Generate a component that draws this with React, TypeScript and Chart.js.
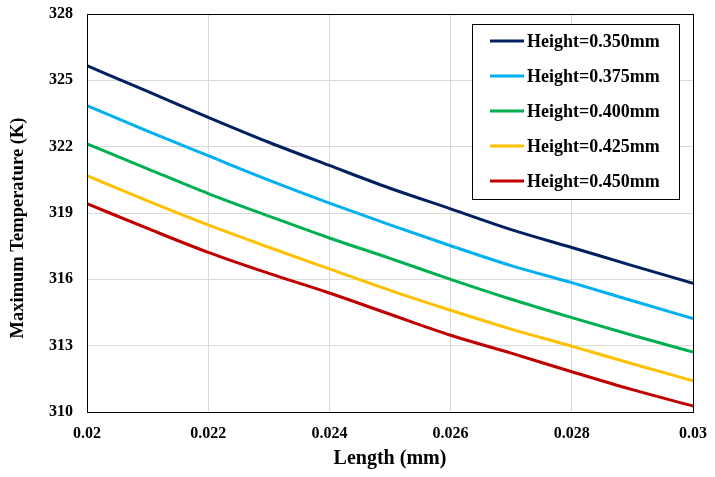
import React, { useEffect, useRef } from "react";
import { Chart, registerables } from "chart.js";

Chart.register(...registerables);

const lengths = [0.02, 0.021, 0.022, 0.023, 0.024, 0.025, 0.026, 0.027, 0.028, 0.029, 0.03];
const seriesLabels = ["Height=0.350mm", "Height=0.375mm", "Height=0.400mm", "Height=0.425mm", "Height=0.450mm"];
const h350 = [325.66, 324.5, 323.33, 322.2, 321.15, 320.12, 319.19, 318.25, 317.44, 316.62, 315.82];
const h375 = [323.86, 322.7, 321.59, 320.49, 319.45, 318.46, 317.52, 316.62, 315.85, 315.03, 314.23];
const h400 = [322.13, 321.0, 319.88, 318.86, 317.87, 316.95, 316.0, 315.1, 314.27, 313.47, 312.71];
const h425 = [320.69, 319.55, 318.46, 317.45, 316.47, 315.5, 314.6, 313.75, 312.98, 312.18, 311.41];
const h450 = [319.42, 318.3, 317.22, 316.27, 315.38, 314.42, 313.47, 312.66, 311.82, 311.01, 310.27];
const seriesValues = [h350, h375, h400, h425, h450];
const seriesColors = ["#002060", "#00B0F0", "#00B050", "#FFC000", "#C00000"];
const xTicks = [0.02, 0.022, 0.024, 0.026, 0.028, 0.03];
const yTicks = [310, 313, 316, 319, 322, 325, 328];
const xTitle = "Length (mm)";
const yTitle = "Maximum Temperature (K)";

const FONT = "'Liberation Serif', 'Times New Roman', serif";

const frameAndLegend = {
  id: "frameAndLegend",
  afterDatasetsDraw(chart: any) {
    const { ctx, chartArea } = chart;
    ctx.save();
    ctx.strokeStyle = "#000";
    ctx.lineWidth = 1;
    ctx.strokeRect(
      Math.round(chartArea.left) + 0.5,
      Math.round(chartArea.top) + 0.5,
      Math.round(chartArea.right - chartArea.left),
      Math.round(chartArea.bottom - chartArea.top)
    );
    // y axis title
    ctx.save();
    ctx.translate(18, (chartArea.top + chartArea.bottom) / 2 + 15);
    ctx.rotate(-Math.PI / 2);
    ctx.font = `bold 18.5px ${FONT}`;
    ctx.fillStyle = "#000";
    ctx.textAlign = "center";
    ctx.textBaseline = "middle";
    ctx.fillText(yTitle, 0, 0);
    ctx.restore();
    // legend
    const boxW = 207;
    const boxH = 175;
    const bx = Math.round(chartArea.right) - 14 - boxW;
    const by = Math.round(chartArea.top) + 10;
    ctx.fillStyle = "#fff";
    ctx.fillRect(bx, by, boxW, boxH);
    ctx.strokeStyle = "#000";
    ctx.lineWidth = 1;
    ctx.strokeRect(bx + 0.5, by + 0.5, boxW, boxH);
    ctx.font = `bold 18px ${FONT}`;
    ctx.textBaseline = "middle";
    ctx.textAlign = "left";
    chart.data.datasets.forEach((ds: any, i: number) => {
      const y = by + 17 + i * 35;
      ctx.strokeStyle = ds.borderColor;
      ctx.lineWidth = 3;
      ctx.beginPath();
      ctx.moveTo(bx + 18, y);
      ctx.lineTo(bx + 52, y);
      ctx.stroke();
      ctx.fillStyle = "#000";
      ctx.fillText(ds.label, bx + 55, y + 1);
    });
    ctx.restore();
  },
};

export default function App() {
  const ref = useRef<HTMLCanvasElement | null>(null);
  useEffect(() => {
    document.body.style.margin = "0";
    const canvas = ref.current;
    if (!canvas) return;
    const chart = new Chart(canvas, {
      type: "line",
      data: {
        datasets: seriesValues.map((vals, i) => ({
          label: seriesLabels[i],
          data: lengths.map((x, j) => ({ x, y: vals[j] })),
          borderColor: seriesColors[i],
          backgroundColor: seriesColors[i],
          borderWidth: 3,
          pointRadius: 0,
          tension: 0.3,
          cubicInterpolationMode: "monotone",
          fill: false,
        })),
      },
      options: {
        responsive: false,
        animation: false,
        devicePixelRatio: 1,
        layout: { padding: { top: 14, right: 22, left: 0, bottom: 0 } },
        plugins: {
          legend: { display: false },
          tooltip: { enabled: false },
        },
        scales: {
          x: {
            type: "linear",
            min: 0.02,
            max: 0.03,
            afterFit: (s: any) => {
              s.height = 65;
              s.paddingLeft = 0;
              s.paddingRight = 0;
            },
            afterBuildTicks: (s: any) => {
              s.ticks = xTicks.map((v) => ({ value: v }));
            },
            ticks: {
              color: "#000",
              padding: 12,
              maxRotation: 0,
              font: { family: FONT, size: 16, weight: "bold" },
              callback: (v: any) => String(Number(Number(v).toFixed(3))),
            },
            grid: { color: "#d9d9d9", lineWidth: 1, drawTicks: false },
            border: { display: false },
            title: {
              display: true,
              text: xTitle,
              color: "#000",
              font: { family: FONT, size: 20, weight: "bold" },
              padding: { top: 0, bottom: 6 },
            },
          },
          y: {
            type: "linear",
            min: 310,
            max: 328,
            afterFit: (s: any) => {
              s.width = 87;
              s.paddingTop = 0;
              s.paddingBottom = 0;
            },
            afterBuildTicks: (s: any) => {
              s.ticks = yTicks.map((v) => ({ value: v }));
            },
            ticks: {
              color: "#000",
              padding: 14,
              font: { family: FONT, size: 16, weight: "bold" },
              callback: (v: any) => String(v),
            },
            grid: { color: "#d9d9d9", lineWidth: 1, drawTicks: false },
            border: { display: false },
          },
        },
      },
      plugins: [frameAndLegend],
    });
    return () => chart.destroy();
  }, []);
  return (
    <div style={{ position: "fixed", left: 0, top: 0, width: 715, height: 477, background: "#fff" }}>
      <canvas ref={ref} width={715} height={477} style={{ width: 715, height: 477, display: "block" }} />
    </div>
  );
}
